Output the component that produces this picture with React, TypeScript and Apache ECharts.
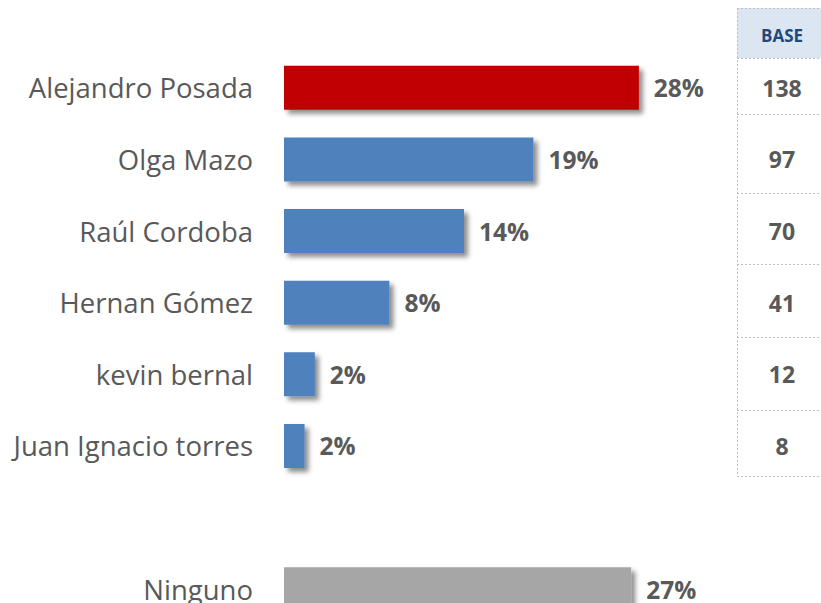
import React, { useEffect, useRef } from "react";
import * as echarts from "echarts";

const categories = [
  "Alejandro Posada",
  "Olga Mazo",
  "Raúl Cordoba",
  "Hernan Gómez",
  "kevin bernal",
  "Juan Ignacio torres",
  "",
  "Ninguno",
];
const percents: (number | null)[] = [27.6, 19.4, 14, 8.2, 2.4, 1.6, null, 27];
const barColors = ["#C00000", "#4F81BD", "#4F81BD", "#4F81BD", "#4F81BD", "#4F81BD", "#4F81BD", "#A6A6A6"];
const bases = ["138", "97", "70", "41", "12", "8", "", ""];
const baseHeader = "BASE";
const rowLines = [58, 114, 193, 264, 337, 410, 476];

export default function App() {
  const ref = useRef<HTMLDivElement>(null);
  useEffect(() => {
    const chart = echarts.init(ref.current!, null, { renderer: "svg" });
    const font = "'Open Sans', sans-serif";
    const graphics: any[] = [
      { type: "rect", shape: { x: 737, y: 8, width: 90, height: 50 }, style: { fill: "#DCE6F2" }, z: 0 },
      { type: "text", x: 782, y: 35, style: { text: baseHeader, font: `bold 17px ${font}`, fill: "#1F497D", align: "center", verticalAlign: "middle" } },
      { type: "line", shape: { x1: 737.5, y1: 8, x2: 737.5, y2: 476 }, style: { stroke: "#BFBFBF", lineWidth: 1, lineDash: [2, 2] } },
      { type: "line", shape: { x1: 737, y1: 8.5, x2: 821, y2: 8.5 }, style: { stroke: "#BFBFBF", lineWidth: 1, lineDash: [2, 2] } },
      ...rowLines.map((y) => ({
        type: "line",
        shape: { x1: 737, y1: y + 0.5, x2: 821, y2: y + 0.5 },
        style: { stroke: "#BFBFBF", lineWidth: 1, lineDash: [2, 2] },
      })),
    ];
    chart.setOption({
      animation: false,
      backgroundColor: "#ffffff",
      grid: { left: 284, top: 52, width: 450, height: 573, outerBoundsMode: "none", containLabel: false },
      xAxis: { type: "value", min: 0, max: 35, show: false },
      yAxis: [
        {
          type: "category",
          data: categories,
          inverse: true,
          axisLine: { show: false },
          axisTick: { show: false },
          splitLine: { show: false },
          axisLabel: { color: "#595959", fontSize: 27.5, lineHeight: 22, fontFamily: font, margin: 31 },
        },
        {
          type: "category",
          data: bases,
          inverse: true,
          position: "right",
          axisLine: { show: false },
          axisTick: { show: false },
          splitLine: { show: false },
          axisLabel: { color: "#595959", fontSize: 23, lineHeight: 22, fontWeight: "bold", fontFamily: font, margin: 48, align: "center" },
        },
      ],
      series: [
        {
          type: "bar",
          yAxisIndex: 0,
          barWidth: 44,
          data: percents.map((v, i) => ({ value: v, itemStyle: { color: barColors[i] } })),
          itemStyle: {
            shadowBlur: 5,
            shadowOffsetX: 4,
            shadowOffsetY: 4,
            shadowColor: "rgba(0,0,0,0.45)",
          },
          label: {
            show: true,
            position: "right",
            distance: 15,
            formatter: (p: any) => (p.value == null ? "" : Math.round(p.value) + "%"),
            color: "#595959",
            fontSize: 24.5,
            lineHeight: 20,
            fontWeight: "bold",
            fontFamily: font,
          },
        },
      ],
      graphic: graphics,
    });
    return () => chart.dispose();
  }, []);
  return <div ref={ref} style={{ width: 821, height: 603, position: "absolute", left: 0, top: 0 }} />;
}
